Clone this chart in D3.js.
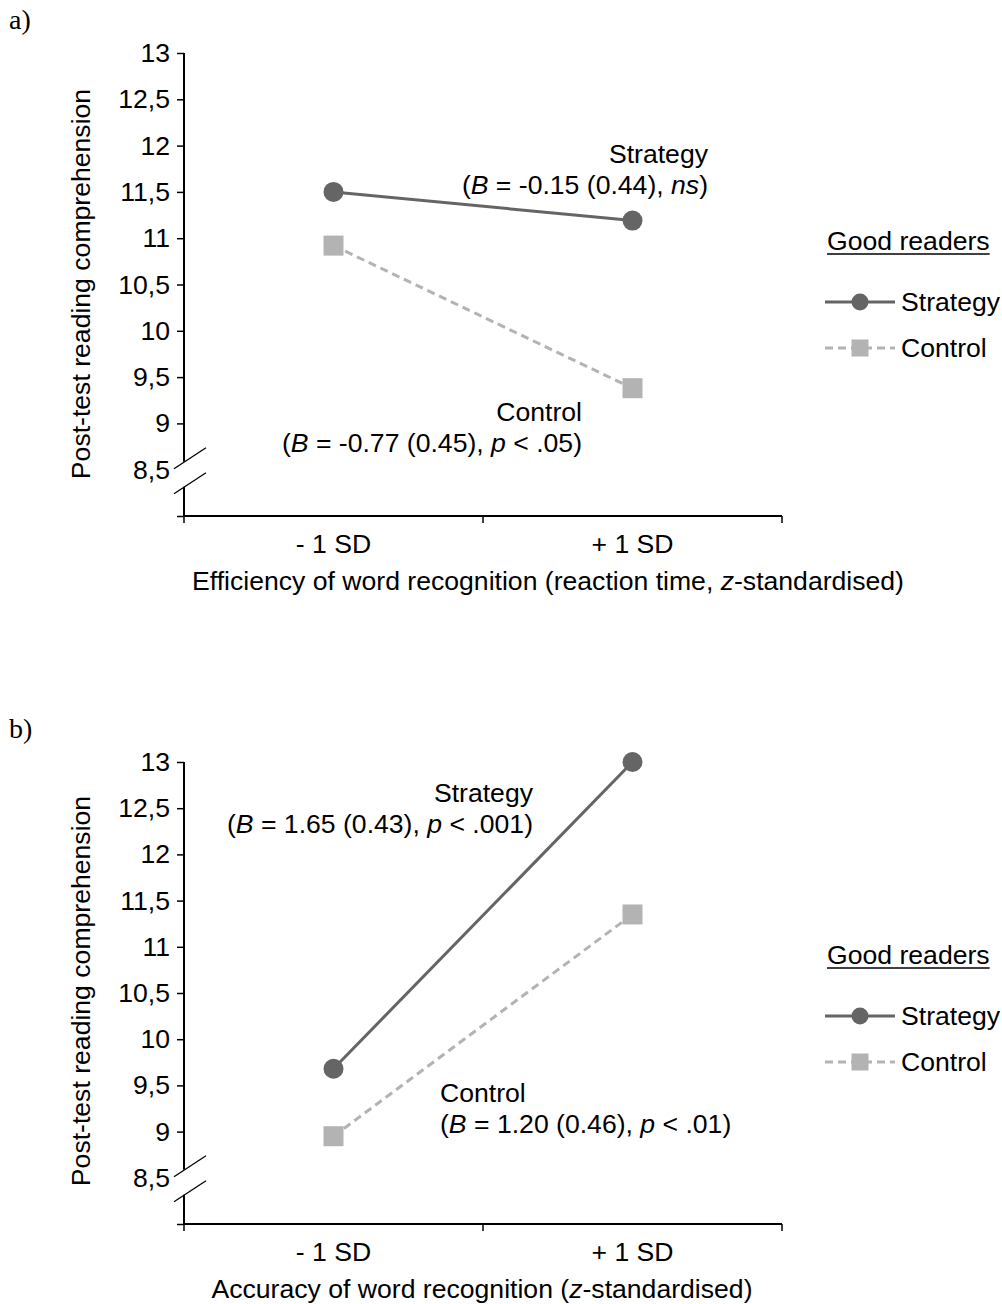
<!DOCTYPE html>
<html>
<head>
<meta charset="utf-8">
<script src="https://cdn.jsdelivr.net/npm/d3@7"></script>
<style>
  body { margin: 0; background: #fff; }
  text { font-family: "Liberation Sans", Arial, sans-serif; fill: #000; }
</style>
</head>
<body>
<div id="chart"></div>
<script>
// data
const categories = ["- 1 SD", "+ 1 SD"];
const yTickValues = [8.5, 9, 9.5, 10, 10.5, 11, 11.5, 12, 12.5, 13];
const seriesNames = ["Strategy", "Control"];
const strategyA = [11.5, 11.19];
const controlA = [10.92, 9.38];
const strategyB = [9.68, 13.0];
const controlB = [8.95, 11.35];

const W = 1002, H = 1304;
const FS = 26.6;

const svg = d3.select("#chart").append("svg")
    .attr("width", W)
    .attr("height", H);

const fmt = d3.formatLocale({decimal: ",", thousands: ".", grouping: [3], currency: ["", ""]}).format("~g");

const styles = {
    Strategy: {color: "#656565", dash: null, marker: "circle"},
    Control: {color: "#b3b3b3", dash: "8,5", marker: "square"}
};

function addMarker(g, type, cx, cy, size, color) {
    if (type === "circle") {
        g.append("circle").attr("cx", cx).attr("cy", cy).attr("r", size / 2).attr("fill", color);
    } else {
        g.append("rect").attr("x", cx - size / 2).attr("y", cy - size / 2)
            .attr("width", size).attr("height", size).attr("fill", color);
    }
}

// text made of [string, italic] parts
function richText(g, x, y, anchor, parts) {
    const t = g.append("text")
        .attr("x", x).attr("y", y)
        .attr("text-anchor", anchor)
        .attr("font-size", FS);
    parts.forEach(p => {
        t.append("tspan").text(p[0]).attr("font-style", p[1] ? "italic" : null);
    });
    return t;
}

function drawPanel(opts) {
    const g = svg.append("g");
    const x0 = 184, x1 = 782;

    const x = d3.scaleBand().domain(categories).range([x0, x1]);
    const y = d3.scaleLinear().domain([8, 13]).range([opts.bottom, opts.top]);
    const cx = c => x(c) + x.bandwidth() / 2;

    // panel letter
    g.append("text")
        .attr("x", 9).attr("y", opts.top - 24)
        .attr("font-size", 28)
        .style("font-family", "'Liberation Serif', 'Times New Roman', serif")
        .text(opts.letter);

    // y axis (ticks + labels), domain drawn by hand because of the break
    const yAxis = d3.axisLeft(y)
        .tickValues([y.domain()[0], ...yTickValues])
        .tickSize(7)
        .tickFormat(d => d === y.domain()[0] ? "" : fmt(d));

    const ya = g.append("g")
        .attr("transform", `translate(${x0},0)`)
        .call(yAxis);
    ya.select(".domain").remove();
    ya.selectAll(".tick line").attr("stroke", "#000").attr("stroke-width", 1.5)
        .filter(d => d === 8.5).remove();
    ya.selectAll(".tick text")
        .attr("x", -14)
        .attr("font-size", FS)
        .attr("font-family", null);

    const yb = y(8.5);
    const gapTop = yb - 8, gapBot = yb + 17;
    g.append("line").attr("x1", x0).attr("x2", x0).attr("y1", y(13)).attr("y2", gapTop)
        .attr("stroke", "#000").attr("stroke-width", 2);
    g.append("line").attr("x1", x0).attr("x2", x0).attr("y1", gapBot).attr("y2", y(8))
        .attr("stroke", "#000").attr("stroke-width", 2);
    [gapTop, gapBot].forEach(yy => {
        g.append("line")
            .attr("x1", x0 - 10).attr("y1", yy + 7)
            .attr("x2", x0 + 22).attr("y2", yy - 14)
            .attr("stroke", "#000").attr("stroke-width", 1.3);
    });

    // x axis
    const yBase = y(8);
    g.append("line").attr("x1", x0).attr("x2", x1).attr("y1", yBase).attr("y2", yBase)
        .attr("stroke", "#000").attr("stroke-width", 2);
    const edges = categories.map(c => x(c)).concat([x.range()[1]]);
    g.selectAll(".xtick").data(edges).enter().append("line")
        .attr("x1", d => d).attr("x2", d => d)
        .attr("y1", yBase).attr("y2", yBase + 7)
        .attr("stroke", "#000").attr("stroke-width", 1.5);
    g.selectAll(".xlab").data(categories).enter().append("text")
        .attr("x", d => cx(d))
        .attr("y", yBase + 37)
        .attr("text-anchor", "middle")
        .attr("font-size", FS)
        .text(d => d);

    richText(g, opts.xTitleX, yBase + 74, "middle", opts.xTitle);

    g.append("text")
        .attr("transform", `translate(90,${opts.yTitleY}) rotate(-90)`)
        .attr("text-anchor", "middle")
        .attr("font-size", FS)
        .text("Post-test reading comprehension");

    // series
    const line = d3.line().x((v, i) => cx(categories[i])).y(v => y(v));
    seriesNames.forEach(name => {
        const s = styles[name];
        const vals = opts.series[name];
        g.append("path")
            .datum(vals)
            .attr("d", line)
            .attr("fill", "none")
            .attr("stroke", s.color)
            .attr("stroke-width", 3)
            .attr("stroke-dasharray", s.dash);
        vals.forEach((v, i) => addMarker(g, s.marker, cx(categories[i]), y(v), 20, s.color));
    });

    // annotations
    opts.notes.forEach(n => {
        n.lines.forEach((parts, k) => richText(g, n.x, n.y + k * 31, n.anchor, parts));
    });

    // legend
    const lx = 825, lw = 70;
    const head = g.append("text")
        .attr("x", 827).attr("y", opts.legendY)
        .attr("font-size", FS)
        .text("Good readers");
    const hw = head.node().getComputedTextLength();
    g.append("line")
        .attr("x1", 827).attr("x2", 827 + hw)
        .attr("y1", opts.legendY + 4).attr("y2", opts.legendY + 4)
        .attr("stroke", "#000").attr("stroke-width", 1.6);
    seriesNames.forEach((name, i) => {
        const s = styles[name];
        const ly = opts.legendY + 52 + i * 46;
        g.append("line")
            .attr("x1", lx).attr("x2", lx + lw)
            .attr("y1", ly).attr("y2", ly)
            .attr("stroke", s.color)
            .attr("stroke-width", 3)
            .attr("stroke-dasharray", s.dash ? "8,5" : null);
        addMarker(g, s.marker, lx + lw / 2, ly, 17, s.color);
        g.append("text")
            .attr("x", lx + lw + 6).attr("y", ly + 9)
            .attr("font-size", FS)
            .text(name);
    });
}

drawPanel({
    letter: "a)",
    top: 53, bottom: 516,
    series: {Strategy: strategyA, Control: controlA},
    xTitle: [["Efficiency of word recognition (reaction time, ", false], ["z", true], ["-standardised)", false]],
    xTitleX: 548,
    yTitleY: 284,
    legendY: 250,
    notes: [
        {x: 708, y: 163, anchor: "end", lines: [
            [["Strategy", false]],
            [["(", false], ["B", true], [" = -0.15 (0.44), ", false], ["ns", true], [")", false]]
        ]},
        {x: 582, y: 421, anchor: "end", lines: [
            [["Control", false]],
            [["(", false], ["B", true], [" = -0.77 (0.45), ", false], ["p", true], [" < .05)", false]]
        ]}
    ]
});

drawPanel({
    letter: "b)",
    top: 762, bottom: 1224,
    series: {Strategy: strategyB, Control: controlB},
    xTitle: [["Accuracy of word recognition (", false], ["z", true], ["-standardised)", false]],
    xTitleX: 482,
    yTitleY: 991,
    legendY: 964,
    notes: [
        {x: 533, y: 802, anchor: "end", lines: [
            [["Strategy", false]],
            [["(", false], ["B", true], [" = 1.65 (0.43), ", false], ["p", true], [" < .001)", false]]
        ]},
        {x: 440, y: 1102, anchor: "start", lines: [
            [["Control", false]],
            [["(", false], ["B", true], [" = 1.20 (0.46), ", false], ["p", true], [" < .01)", false]]
        ]}
    ]
});
</script>
</body>
</html>
